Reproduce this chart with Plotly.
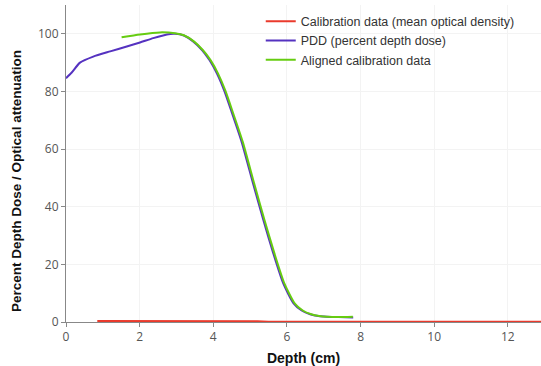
import plotly.graph_objects as go

# Calibration data (mean optical density)
cal_x = [0.85, 2.0, 3.0, 4.0, 5.2, 5.5, 8.0, 10.0, 13.0]
cal_y = [0.35, 0.35, 0.3, 0.3, 0.25, 0.05, 0.05, 0.05, 0.05]

# PDD (percent depth dose)
pdd_x = [0.0, 0.15, 0.38, 0.74, 1.2, 1.65, 2.01, 2.37, 2.74, 2.96, 3.2, 3.46, 3.7, 3.9,
         4.1, 4.3, 4.5, 4.77, 5.09, 5.36, 5.63, 5.9, 6.18, 6.4, 6.63, 6.85, 7.08, 7.4, 7.8]
pdd_y = [84.6, 86.5, 90.0, 92.1, 93.9, 95.6, 97.0, 98.5, 99.8, 100.0, 99.4, 97.3, 94.3, 90.8,
         86.2, 80.2, 72.8, 62.5, 47.6, 35.4, 23.8, 13.4, 6.5, 4.0, 2.7, 2.1, 1.85, 1.7, 1.6]

# Aligned calibration data
ali_x = [1.51, 2.01, 2.55, 2.96, 3.2, 3.48, 3.72, 3.93, 4.13, 4.33, 4.53, 4.8, 5.12,
         5.39, 5.66, 5.93, 6.21, 6.43, 6.66, 6.88, 7.1, 7.4, 7.79]
ali_y = [98.8, 99.8, 100.5, 100.2, 99.5, 97.3, 94.3, 90.8, 86.2, 80.2, 72.8, 62.5, 47.6,
         35.4, 23.8, 13.4, 6.5, 4.0, 2.7, 2.1, 1.85, 1.75, 1.85]

x_ticks = [0, 2, 4, 6, 8, 10, 12]
y_ticks = [0, 20, 40, 60, 80, 100]

fig = go.Figure()
fig.add_trace(go.Scatter(x=cal_x, y=cal_y, mode="lines", name="Calibration data (mean optical density)",
                         line=dict(color="#ea3a2c", width=2)))
fig.add_trace(go.Scatter(x=pdd_x, y=pdd_y, mode="lines", name="PDD (percent depth dose)",
                         line=dict(color="#5532c0", width=2, shape="spline", smoothing=0.6)))
fig.add_trace(go.Scatter(x=ali_x, y=ali_y, mode="lines", name="Aligned calibration data",
                         line=dict(color="#66cc11", width=2, shape="spline", smoothing=0.6)))

fig.update_layout(
    width=541, height=366,
    margin=dict(l=66, r=0, t=5, b=44),
    paper_bgcolor="white", plot_bgcolor="white",
    font=dict(family="Open Sans", size=12, color="#444"),
    showlegend=True,
    legend=dict(x=0.41, y=0.995, xanchor="left", yanchor="top", bgcolor="rgba(255,255,255,0)",
                font=dict(family="Liberation Sans Narrow, Liberation Sans", size=12.5, color="#333"),
                tracegroupgap=0),
    xaxis=dict(range=[0, 12.9], tickvals=x_ticks, showgrid=True, gridcolor="#f3f3f3",
               showline=True, linecolor="#888", linewidth=1, ticks="outside", ticklen=4,
               tickcolor="#888", zeroline=False,
               tickfont=dict(family="Open Sans", size=12, color="#555"),
               title=dict(text="<b>Depth (cm)</b>", standoff=10,
                          font=dict(family="Liberation Sans", size=14, color="#111"))),
    yaxis=dict(range=[0, 110], tickvals=y_ticks, showgrid=True, gridcolor="#f3f3f3",
               showline=True, linecolor="#888", linewidth=1, ticks="outside", ticklen=4,
               tickcolor="#888", zeroline=False,
               tickfont=dict(family="Open Sans", size=12, color="#555")),
    annotations=[dict(text="<b>Percent Depth Dose / Optical attenuation</b>",
                      xref="paper", yref="paper", x=-0.1032, y=0.445,
                      xanchor="center", yanchor="middle", textangle=-90, showarrow=False,
                      font=dict(family="Liberation Sans", size=13.5, color="#111"))],
)

fig.write_html("out.html")
